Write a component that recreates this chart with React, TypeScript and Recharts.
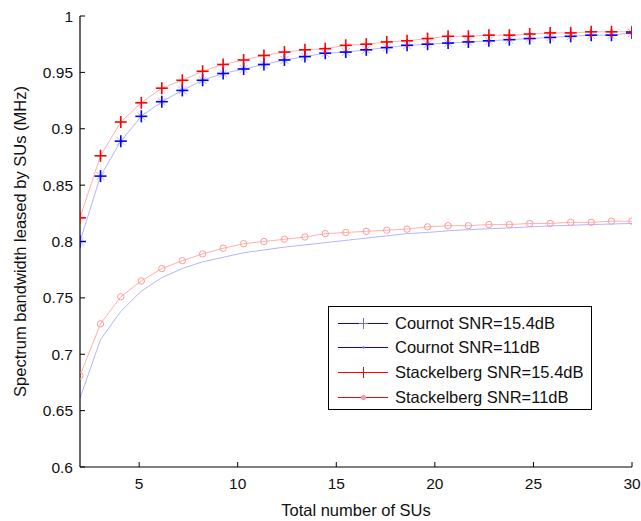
import React from "react";
import { LineChart, Line, XAxis, YAxis, Legend } from "recharts";

// number of SUs (28 samples spread over 2..30)
const xs = [
  2, 3.04, 4.07, 5.11, 6.15, 7.19, 8.22, 9.26, 10.3, 11.33, 12.37, 13.41, 14.44, 15.48,
  16.52, 17.56, 18.59, 19.63, 20.67, 21.7, 22.74, 23.78, 24.81, 25.85, 26.89, 27.93, 28.96, 30,
];
const cournot154 = [
  0.8, 0.858, 0.889, 0.911, 0.924, 0.934, 0.943, 0.949, 0.953, 0.957, 0.961, 0.964, 0.967, 0.968,
  0.97, 0.972, 0.974, 0.975, 0.976, 0.977, 0.978, 0.979, 0.98, 0.981, 0.982, 0.983, 0.983, 0.985,
];
const cournot11 = [
  0.661, 0.713, 0.738, 0.756, 0.768, 0.776, 0.782, 0.786, 0.79, 0.7925, 0.795, 0.797, 0.799, 0.801,
  0.803, 0.805, 0.807, 0.808, 0.8095, 0.8105, 0.8113, 0.812, 0.813, 0.8138, 0.8144, 0.815, 0.8155, 0.816,
];
const stackelberg154 = [
  0.821, 0.876, 0.906, 0.923, 0.936, 0.943, 0.951, 0.957, 0.961, 0.965, 0.968, 0.97, 0.971, 0.974,
  0.975, 0.977, 0.978, 0.98, 0.982, 0.982, 0.983, 0.983, 0.984, 0.985, 0.985, 0.986, 0.986, 0.986,
];
const stackelberg11 = [
  0.681, 0.727, 0.751, 0.765, 0.776, 0.783, 0.789, 0.794, 0.798, 0.8, 0.802, 0.804, 0.807, 0.808,
  0.809, 0.81, 0.811, 0.813, 0.814, 0.814, 0.815, 0.815, 0.816, 0.816, 0.817, 0.817, 0.818, 0.818,
];

const xTicks = [5, 10, 15, 20, 25, 30];
const yTicks = [0.6, 0.65, 0.7, 0.75, 0.8, 0.85, 0.9, 0.95, 1];
const legendNames = [
  "Cournot SNR=15.4dB",
  "Cournot SNR=11dB",
  "Stackelberg SNR=15.4dB",
  "Stackelberg SNR=11dB",
];

const data = xs.map((x, i) => ({
  x,
  c15: cournot154[i],
  c11: cournot11[i],
  s15: stackelberg154[i],
  s11: stackelberg11[i],
}));

const FONT = "'Liberation Sans', Arial, Helvetica, sans-serif";
const fmt = (v: number) => String(Number(v.toFixed(2)));

const PlusDot = ({ cx, cy, color, star }: any) => {
  if (cx == null || cy == null) return null;
  const s = 6;
  return (
    <g>
      {star && (
        <g stroke="#b8b8ff" strokeWidth={1}>
          <line x1={cx - 4} y1={cy - 4} x2={cx + 4} y2={cy + 4} />
          <line x1={cx - 4} y1={cy + 4} x2={cx + 4} y2={cy - 4} />
        </g>
      )}
      <line x1={cx - s} y1={cy} x2={cx + s} y2={cy} stroke={color} strokeWidth={1.6} />
      <line x1={cx} y1={cy - s} x2={cx} y2={cy + s} stroke={color} strokeWidth={1.6} />
    </g>
  );
};

const CircleDot = ({ cx, cy }: any) => {
  if (cx == null || cy == null) return null;
  return <circle cx={cx} cy={cy} r={3.2} fill="none" stroke="#ff9a9a" strokeWidth={1} />;
};

const LeftTick = ({ x, y, payload }: any) => (
  <g>
    <line x1={x} x2={x + 5} y1={y} y2={y} stroke="#000" />
    <text x={x - 7} y={y} dy={5.5} textAnchor="end" fontSize={15.5} fontFamily={FONT} fill="#111">
      {fmt(payload.value)}
    </text>
  </g>
);
const RightTick = ({ x, y }: any) => <line x1={x} x2={x - 5} y1={y} y2={y} stroke="#000" />;
const BottomTick = ({ x, y, payload }: any) => (
  <g>
    <line x1={x} x2={x} y1={y} y2={y - 5} stroke="#000" />
    <text x={x} y={y + 22} textAnchor="middle" fontSize={15.5} fontFamily={FONT} fill="#111">
      {fmt(payload.value)}
    </text>
  </g>
);
const TopTick = ({ x, y }: any) => <line x1={x} x2={x} y1={y} y2={y + 5} stroke="#000" />;

const legendMarks = [
  { color: "#0000ff", mark: "plus" },
  { color: "#0000ff", mark: "dot" },
  { color: "#ff0000", mark: "plus" },
  { color: "#ff0000", mark: "bigdot" },
];

const renderLegend = () => (
  <div
    style={{
      width: 264,
      height: 104,
      boxSizing: "border-box",
      border: "1px solid #000",
      background: "#fff",
      paddingTop: 4,
      fontFamily: FONT,
      fontSize: 16.5,
      color: "#111",
    }}
  >
    {legendNames.map((name, i) => {
      const m = legendMarks[i];
      return (
        <div key={name} style={{ display: "flex", alignItems: "center", height: 24.6 }}>
          <svg width={66} height={21} style={{ flex: "none" }}>
            <line x1={9} x2={59} y1={10.5} y2={10.5} stroke={m.color} strokeWidth={1} />
            {m.mark === "plus" && (
              <g stroke={i === 0 ? "#6a6aff" : m.color} strokeWidth={1}>
                <line x1={34.5} x2={34.5} y1={5} y2={16} />
                <line x1={30} x2={39} y1={10.5} y2={10.5} />
              </g>
            )}
            {m.mark === "dot" && <circle cx={34.5} cy={10.5} r={1.2} fill="#6a6aff" />}
            {m.mark === "bigdot" && <circle cx={34.5} cy={10.5} r={2.6} fill="#ff9a9a" />}
          </svg>
          <span style={{ whiteSpace: "nowrap" }}>{name}</span>
        </div>
      );
    })}
  </div>
);

export default function App() {
  return (
    <div style={{ position: "absolute", left: 0, top: 0, width: 641, height: 521, background: "#fff" }}>
      <LineChart
        width={641}
        height={521}
        data={data}
        margin={{ top: 16, right: 9, bottom: 0, left: 0 }}
        style={{ fontFamily: FONT }}
      >
        <XAxis
          dataKey="x"
          type="number"
          domain={[2, 30]}
          ticks={xTicks}
          allowDataOverflow
          height={54}
          tickSize={0}
          tickMargin={0}
          tick={<BottomTick />}
          axisLine={{ stroke: "#000", strokeWidth: 1.2 }}
          label={{
            content: ({ viewBox }: any) => (
              <text
                x={viewBox.x + viewBox.width / 2}
                y={viewBox.y + 49}
                textAnchor="middle"
                fontSize={16.5}
                fontFamily={FONT}
                fill="#111"
              >
                Total number of SUs
              </text>
            ),
          }}
        />
        <XAxis
          xAxisId="top"
          orientation="top"
          dataKey="x"
          type="number"
          domain={[2, 30]}
          ticks={xTicks}
          height={0}
          tickSize={0}
          tickMargin={0}
          tick={<TopTick />}
          axisLine={{ stroke: "#000", strokeWidth: 1.2 }}
        />
        <YAxis
          type="number"
          domain={[0.6, 1]}
          ticks={yTicks}
          allowDataOverflow
          width={80}
          tickSize={0}
          tickMargin={0}
          tick={<LeftTick />}
          axisLine={{ stroke: "#000", strokeWidth: 1.2 }}
          label={{
            content: ({ viewBox }: any) => {
              const cx = viewBox.x + 20;
              const cy = viewBox.y + viewBox.height / 2;
              return (
                <text
                  x={cx}
                  y={cy}
                  transform={`rotate(-90, ${cx}, ${cy})`}
                  textAnchor="middle"
                  dominantBaseline="central"
                  fontSize={16.5}
                  fontFamily={FONT}
                  fill="#111"
                >
                  Spectrum bandwidth leased by SUs (MHz)
                </text>
              );
            },
          }}
        />
        <YAxis
          yAxisId="right"
          orientation="right"
          type="number"
          domain={[0.6, 1]}
          ticks={yTicks}
          width={0}
          tickSize={0}
          tickMargin={0}
          tick={<RightTick />}
          axisLine={{ stroke: "#000", strokeWidth: 1.2 }}
        />
        <Line
          dataKey="c11"
          stroke="#b4b4ff"
          strokeWidth={1}
          dot={false}
          activeDot={false}
          isAnimationActive={false}
          legendType="none"
        />
        <Line
          dataKey="s11"
          stroke="#ffb0b0"
          strokeWidth={1}
          dot={(p: any) => <CircleDot key={`s11-${p.index}`} {...p} />}
          activeDot={false}
          isAnimationActive={false}
          legendType="none"
        />
        <Line
          dataKey="c15"
          stroke="#b4b4ff"
          strokeWidth={1}
          dot={(p: any) => <PlusDot key={`c15-${p.index}`} {...p} color="#0000ff" star />}
          activeDot={false}
          isAnimationActive={false}
          legendType="none"
        />
        <Line
          dataKey="s15"
          stroke="#ffb0b0"
          strokeWidth={1}
          dot={(p: any) => <PlusDot key={`s15-${p.index}`} {...p} color="#ff0000" />}
          activeDot={false}
          isAnimationActive={false}
          legendType="none"
        />
        <Legend
          layout="vertical"
          verticalAlign="middle"
          align="center"
          wrapperStyle={{ left: 328, top: 306, width: 264, height: 104 }}
          content={renderLegend}
        />
      </LineChart>
    </div>
  );
}
